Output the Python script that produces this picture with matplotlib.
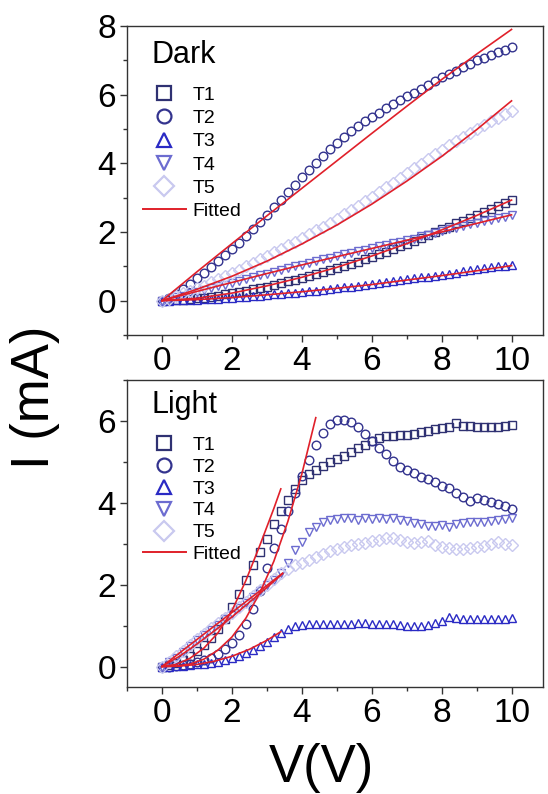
import numpy as np
import matplotlib
matplotlib.use("Agg")
import matplotlib.pyplot as plt
from matplotlib.lines import Line2D
from matplotlib.ticker import MultipleLocator

plt.rcParams["font.family"] = ["Liberation Sans", "DejaVu Sans"]

# voltage sweep of the measured points (V)
V_SWEEP = [0.0, 0.2, 0.4, 0.6, 0.8, 1.0, 1.2, 1.4, 1.6, 1.8,
           2.0, 2.2, 2.4, 2.6, 2.8, 3.0, 3.2, 3.4, 3.6, 3.8,
           4.0, 4.2, 4.4, 4.6, 4.8, 5.0, 5.2, 5.4, 5.6, 5.8,
           6.0, 6.2, 6.4, 6.6, 6.8, 7.0, 7.2, 7.4, 7.6, 7.8,
           8.0, 8.2, 8.4, 8.6, 8.8, 9.0, 9.2, 9.4, 9.6, 9.8, 10.0]

# ---- dark currents (mA) ----
DARK_T1 = [0.00, 0.01, 0.02, 0.03, 0.05, 0.07, 0.09, 0.12, 0.15, 0.18,
           0.21, 0.25, 0.29, 0.33, 0.37, 0.41, 0.46, 0.51, 0.56, 0.61,
           0.66, 0.72, 0.77, 0.83, 0.89, 0.95, 1.01, 1.08, 1.14, 1.21,
           1.28, 1.35, 1.43, 1.50, 1.58, 1.66, 1.74, 1.83, 1.91, 2.00,
           2.08, 2.16, 2.25, 2.33, 2.42, 2.50, 2.59, 2.67, 2.76, 2.84, 2.93]
DARK_T2 = [0.00, 0.08, 0.20, 0.33, 0.48, 0.65, 0.81, 0.98, 1.15, 1.32,
           1.50, 1.69, 1.88, 2.08, 2.29, 2.50, 2.72, 2.94, 3.16, 3.38,
           3.60, 3.81, 4.01, 4.21, 4.41, 4.60, 4.77, 4.93, 5.08, 5.22,
           5.35, 5.48, 5.60, 5.72, 5.84, 5.95, 6.06, 6.17, 6.28, 6.39,
           6.50, 6.60, 6.70, 6.80, 6.90, 7.00, 7.08, 7.16, 7.24, 7.31, 7.38]
DARK_T3 = [0.00, 0.00, 0.01, 0.01, 0.02, 0.03, 0.04, 0.05, 0.06, 0.08,
           0.09, 0.10, 0.12, 0.13, 0.15, 0.16, 0.18, 0.20, 0.21, 0.23,
           0.25, 0.27, 0.29, 0.31, 0.34, 0.36, 0.39, 0.41, 0.44, 0.46,
           0.49, 0.52, 0.54, 0.57, 0.59, 0.62, 0.65, 0.68, 0.70, 0.73,
           0.76, 0.79, 0.82, 0.85, 0.88, 0.91, 0.94, 0.97, 1.00, 1.02, 1.05]
DARK_T4 = [0.00, 0.05, 0.10, 0.15, 0.21, 0.26, 0.31, 0.36, 0.42, 0.47,
           0.52, 0.57, 0.63, 0.68, 0.74, 0.79, 0.84, 0.90, 0.95, 1.00,
           1.05, 1.10, 1.15, 1.20, 1.25, 1.30, 1.35, 1.39, 1.44, 1.48,
           1.53, 1.58, 1.62, 1.67, 1.71, 1.76, 1.81, 1.87, 1.92, 1.98,
           2.03, 2.08, 2.13, 2.17, 2.22, 2.27, 2.32, 2.36, 2.41, 2.45, 2.50]
DARK_T5 = [0.00, 0.06, 0.13, 0.21, 0.28, 0.36, 0.44, 0.53, 0.62, 0.71,
           0.80, 0.90, 1.00, 1.10, 1.20, 1.30, 1.41, 1.51, 1.62, 1.72,
           1.83, 1.94, 2.05, 2.16, 2.27, 2.38, 2.51, 2.64, 2.76, 2.89,
           3.02, 3.16, 3.30, 3.44, 3.58, 3.72, 3.86, 3.99, 4.13, 4.26,
           4.40, 4.52, 4.64, 4.76, 4.88, 5.00, 5.11, 5.22, 5.32, 5.43, 5.53]

# fitted curves, dark
V_FIT_DARK = [0, 1, 2, 3, 4, 5, 6, 7, 8, 9, 10]
FIT_DARK_T1 = [0, 0.07, 0.22, 0.43, 0.68, 0.97, 1.30, 1.66, 2.06, 2.48, 2.93]
FIT_DARK_T2 = [0, 0.84, 1.66, 2.47, 3.27, 4.07, 4.87, 5.66, 6.44, 7.18, 7.90]
FIT_DARK_T3 = [0, 0.03, 0.09, 0.17, 0.26, 0.36, 0.47, 0.60, 0.73, 0.87, 1.02]
FIT_DARK_T4 = [0, 0.27, 0.53, 0.79, 1.04, 1.28, 1.52, 1.76, 2.00, 2.25, 2.50]
FIT_DARK_T5 = [0, 0.33, 0.71, 1.15, 1.65, 2.20, 2.81, 3.48, 4.20, 4.98, 5.82]

# ---- light currents (mA) ----
LIGHT_T1 = [0.00, 0.03, 0.08, 0.15, 0.25, 0.38, 0.52, 0.70, 0.92, 1.15,
            1.45, 1.78, 2.12, 2.47, 2.80, 3.12, 3.48, 3.80, 4.08, 4.33,
            4.55, 4.70, 4.80, 4.90, 5.00, 5.08, 5.15, 5.25, 5.33, 5.42,
            5.50, 5.58, 5.62, 5.64, 5.65, 5.66, 5.68, 5.72, 5.76, 5.80,
            5.82, 5.86, 5.95, 5.88, 5.87, 5.86, 5.86, 5.85, 5.84, 5.87, 5.91]
LIGHT_T2 = [0.00, 0.00, 0.02, 0.04, 0.07, 0.11, 0.16, 0.22, 0.30, 0.42,
            0.57, 0.76, 1.05, 1.40, 1.85, 2.40, 2.90, 3.35, 3.80, 4.25,
            4.65, 5.05, 5.40, 5.70, 5.92, 6.02, 6.03, 5.98, 5.85, 5.68,
            5.50, 5.33, 5.20, 5.02, 4.88, 4.80, 4.72, 4.62, 4.58, 4.50,
            4.42, 4.35, 4.25, 4.15, 4.05, 4.12, 4.08, 4.02, 3.98, 3.92, 3.86]
LIGHT_T3 = [0.00, 0.00, 0.01, 0.02, 0.03, 0.05, 0.07, 0.09, 0.11, 0.15,
            0.20, 0.26, 0.33, 0.40, 0.50, 0.60, 0.71, 0.82, 0.92, 0.98,
            1.01, 1.03, 1.04, 1.05, 1.04, 1.05, 1.04, 1.05, 1.07, 1.06,
            1.04, 1.03, 1.05, 1.03, 1.01, 1.00, 0.99, 0.99, 1.01, 1.07,
            1.12, 1.20, 1.19, 1.15, 1.16, 1.17, 1.15, 1.17, 1.16, 1.17, 1.18]
LIGHT_T4 = [0.00, 0.10, 0.22, 0.36, 0.50, 0.64, 0.77, 0.90, 1.02, 1.15,
            1.28, 1.42, 1.56, 1.70, 1.84, 1.98, 2.12, 2.28, 2.52, 2.85,
            3.05, 3.28, 3.42, 3.52, 3.57, 3.60, 3.64, 3.62, 3.58, 3.63,
            3.60, 3.62, 3.60, 3.63, 3.58, 3.55, 3.50, 3.47, 3.43, 3.44,
            3.46, 3.42, 3.48, 3.50, 3.52, 3.54, 3.52, 3.56, 3.58, 3.60, 3.64]
LIGHT_T5 = [0.00, 0.12, 0.25, 0.39, 0.53, 0.67, 0.80, 0.93, 1.06, 1.19,
            1.32, 1.45, 1.58, 1.72, 1.86, 2.00, 2.14, 2.28, 2.38, 2.47,
            2.54, 2.60, 2.68, 2.75, 2.82, 2.88, 2.93, 2.97, 3.00, 3.03,
            3.06, 3.10, 3.15, 3.13, 3.08, 3.05, 3.02, 3.04, 3.06, 2.98,
            2.92, 2.90, 2.88, 2.88, 2.90, 2.92, 2.95, 3.00, 3.04, 3.00, 2.96]

# fitted curves, light (only the rising part is fitted)
V_FIT_L_T1 = [0, 0.4, 0.8, 1.2, 1.6, 2.0, 2.4, 2.8, 3.2, 3.4]
FIT_LIGHT_T1 = [0, 0.05, 0.20, 0.45, 0.82, 1.36, 2.10, 2.96, 3.86, 4.34]
V_FIT_L_T2 = [0, 0.4, 0.8, 1.2, 1.6, 2.0, 2.4, 2.8, 3.2, 3.6, 4.0, 4.4]
FIT_LIGHT_T2 = [0, 0.01, 0.06, 0.18, 0.40, 0.72, 1.18, 1.80, 2.57, 3.54, 4.70, 6.08]
V_FIT_L_T3 = [0, 0.5, 1.0, 1.5, 2.0, 2.5, 3.0, 3.4]
FIT_LIGHT_T3 = [0, 0.01, 0.05, 0.13, 0.25, 0.42, 0.64, 0.85]
V_FIT_L_T45 = [0, 0.5, 1.0, 1.5, 2.0, 2.5, 3.0, 3.45]
FIT_LIGHT_T4 = [0, 0.33, 0.66, 0.99, 1.32, 1.65, 1.98, 2.28]
FIT_LIGHT_T5 = [0, 0.25, 0.55, 0.87, 1.21, 1.57, 1.93, 2.27]

LABELS = ["T1", "T2", "T3", "T4", "T5"]
MARKERS = ["s", "o", "^", "v", "D"]
COLORS = ["#2f3172", "#33338e", "#2a2ac4", "#6c6cd0", "#c9c9ef"]
RED = "#e0202a"
AX_COLOR = "#333333"

fig = plt.figure(figsize=(5.48, 7.94), dpi=100)
W, H = 548.0, 794.0
ax_dark = fig.add_axes([127 / W, 1 - 335 / H, 416 / W, 309 / H])
ax_light = fig.add_axes([127 / W, 1 - 687 / H, 416 / W, 307 / H])


def draw_panel(ax, series, fits, title, ylim, leg_y, spacing):
    for ys, mk, col in zip(series, MARKERS, COLORS):
        ax.plot(V_SWEEP, ys, ls="none", marker=mk, ms=6.2, mew=1.0,
                mfc="none", mec=col)
    for vx, fy in fits:
        ax.plot(vx, fy, color=RED, lw=1.2)

    ax.set_xlim(-1, 10.9)
    ax.set_ylim(*ylim)
    ax.xaxis.set_major_locator(MultipleLocator(2))
    ax.xaxis.set_minor_locator(MultipleLocator(1))
    ax.yaxis.set_major_locator(MultipleLocator(2))
    ax.yaxis.set_minor_locator(MultipleLocator(1))
    ax.tick_params(which="both", direction="out", color=AX_COLOR,
                   labelsize=24, width=1.0)
    ax.tick_params(which="major", length=5, pad=3)
    ax.tick_params(which="minor", length=3)
    for sp in ax.spines.values():
        sp.set_color(AX_COLOR)
        sp.set_linewidth(1.0)

    ax.text(0.06, leg_y[0], title, transform=ax.transAxes, fontsize=22,
            ha="left", va="center")

    handles = [Line2D([], [], ls="none", marker=mk, ms=10, mew=1.6,
                      mfc="none", mec=col)
               for mk, col in zip(MARKERS, COLORS)]
    handles.append(Line2D([], [], color=RED, lw=1.4))
    ax.legend(handles, LABELS + ["Fitted"], loc="center left",
              bbox_to_anchor=(0.0385, leg_y[1]), frameon=False,
              fontsize=14, handlelength=2.2, handletextpad=0.35,
              labelspacing=spacing, borderpad=0, borderaxespad=0)


draw_panel(ax_dark,
           [DARK_T1, DARK_T2, DARK_T3, DARK_T4, DARK_T5],
           [(V_FIT_DARK, FIT_DARK_T1), (V_FIT_DARK, FIT_DARK_T2),
            (V_FIT_DARK, FIT_DARK_T3), (V_FIT_DARK, FIT_DARK_T4),
            (V_FIT_DARK, FIT_DARK_T5)],
           "Dark", (-1, 8), (0.905, 0.588), 0.29)

draw_panel(ax_light,
           [LIGHT_T1, LIGHT_T2, LIGHT_T3, LIGHT_T4, LIGHT_T5],
           [(V_FIT_L_T1, FIT_LIGHT_T1), (V_FIT_L_T2, FIT_LIGHT_T2),
            (V_FIT_L_T3, FIT_LIGHT_T3), (V_FIT_L_T45, FIT_LIGHT_T4),
            (V_FIT_L_T45, FIT_LIGHT_T5)],
           "Light", (-0.5, 7), (0.919, 0.61), 0.22)

fig.text(321 / W, 1 - 768 / H, "V(V)", fontsize=38, ha="center", va="center")
fig.text(35 / W, 1 - 397 / H, "I (mA)", fontsize=38, ha="center",
         va="center", rotation=90)

fig.savefig("out.png", dpi=100)
